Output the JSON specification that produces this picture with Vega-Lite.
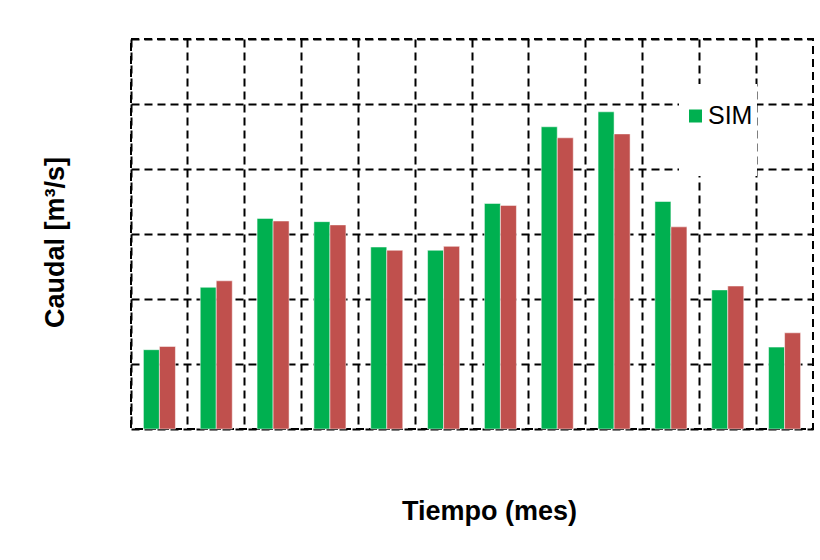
{
  "$schema": "https://vega.github.io/schema/vega-lite/v6.json",
  "width": 682,
  "height": 390,
  "autosize": {"type": "none"},
  "padding": {"left": 131, "top": 39, "right": 7, "bottom": 131},
  "background": "white",
  "config": {
    "font": "Liberation Sans",
    "view": {"stroke": "black", "strokeWidth": 2, "strokeDash": [8, 5]}
  },
  "data": {
    "values": [
      {"mes": 1, "serie": "SIM", "caudal": 1.22},
      {"mes": 1, "serie": "OBS", "caudal": 1.27},
      {"mes": 2, "serie": "SIM", "caudal": 2.18},
      {"mes": 2, "serie": "OBS", "caudal": 2.28},
      {"mes": 3, "serie": "SIM", "caudal": 3.24},
      {"mes": 3, "serie": "OBS", "caudal": 3.2},
      {"mes": 4, "serie": "SIM", "caudal": 3.19},
      {"mes": 4, "serie": "OBS", "caudal": 3.14},
      {"mes": 5, "serie": "SIM", "caudal": 2.8},
      {"mes": 5, "serie": "OBS", "caudal": 2.75},
      {"mes": 6, "serie": "SIM", "caudal": 2.75},
      {"mes": 6, "serie": "OBS", "caudal": 2.81},
      {"mes": 7, "serie": "SIM", "caudal": 3.47},
      {"mes": 7, "serie": "OBS", "caudal": 3.44},
      {"mes": 8, "serie": "SIM", "caudal": 4.65},
      {"mes": 8, "serie": "OBS", "caudal": 4.48},
      {"mes": 9, "serie": "SIM", "caudal": 4.88},
      {"mes": 9, "serie": "OBS", "caudal": 4.54},
      {"mes": 10, "serie": "SIM", "caudal": 3.5},
      {"mes": 10, "serie": "OBS", "caudal": 3.11},
      {"mes": 11, "serie": "SIM", "caudal": 2.14},
      {"mes": 11, "serie": "OBS", "caudal": 2.2},
      {"mes": 12, "serie": "SIM", "caudal": 1.26},
      {"mes": 12, "serie": "OBS", "caudal": 1.48}
    ]
  },
  "mark": {"type": "bar", "stroke": "white", "strokeOpacity": 0.5, "strokeWidth": 1},
  "encoding": {
    "x": {
      "field": "mes",
      "type": "ordinal",
      "sort": null,
      "scale": {"paddingInner": 0, "paddingOuter": 0},
      "axis": {
        "title": "Tiempo (mes)",
        "labels": false,
        "ticks": false,
        "domain": false,
        "grid": true,
        "bandPosition": 0,
        "gridColor": "black",
        "gridWidth": 2,
        "gridDash": [8, 5],
        "gridOpacity": 1,
        "titleFont": "Liberation Sans",
        "titleFontSize": 27,
        "titleFontWeight": "bold",
        "titleColor": "black",
        "titleX": 358,
        "titleY": 90,
        "titleBaseline": "alphabetic"
      }
    },
    "xOffset": {
      "field": "serie",
      "type": "nominal",
      "sort": ["SIM", "OBS"],
      "scale": {"paddingOuter": 0.775, "paddingInner": 0}
    },
    "y": {
      "field": "caudal",
      "type": "quantitative",
      "scale": {"domain": [0, 6], "nice": false},
      "axis": {
        "title": "Caudal [m³/s]",
        "values": [0, 1, 2, 3, 4, 5, 6],
        "labels": false,
        "ticks": false,
        "domain": false,
        "grid": true,
        "gridColor": "black",
        "gridWidth": 2,
        "gridDash": [8, 5],
        "gridOpacity": 1,
        "titleFont": "Liberation Sans",
        "titleFontSize": 27,
        "titleFontWeight": "bold",
        "titleColor": "black",
        "titleAngle": 270,
        "titleX": -68,
        "titleY": 203,
        "titleBaseline": "alphabetic",
        "titleAlign": "center"
      }
    },
    "color": {
      "field": "serie",
      "type": "nominal",
      "scale": {"domain": ["SIM", "OBS"], "range": ["#00B050", "#C0504D"]},
      "legend": {
        "orient": "none",
        "values": ["SIM"],
        "legendX": 548,
        "legendY": 45,
        "fillColor": "white",
        "strokeColor": null,
        "padding": 4,
        "clipHeight": 56,
        "title": " ",
        "titleOrient": "bottom",
        "titleFontSize": 20,
        "titlePadding": 8,
        "symbolType": "square",
        "symbolSize": 169,
        "symbolStrokeWidth": 0,
        "symbolOpacity": 1,
        "labelFont": "Liberation Sans",
        "labelFontSize": 25,
        "labelColor": "black",
        "labelOffset": 0,
        "labelLimit": 50
      }
    }
  }
}
